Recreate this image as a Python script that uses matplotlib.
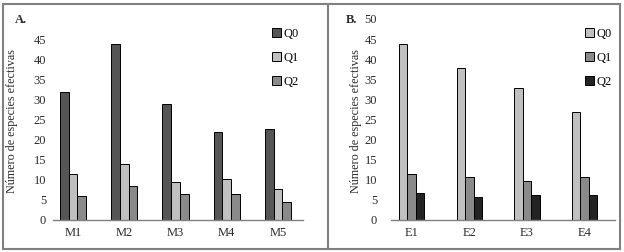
import matplotlib.pyplot as plt
import matplotlib.patches as mpatches
import numpy as np

plt.rcParams['font.family'] = ['Liberation Serif', 'DejaVu Serif']

# panel A
cat_a = ['M1', 'M2', 'M3', 'M4', 'M5']
q0_a = [31.8, 43.8, 28.8, 21.9, 22.7]
q1_a = [11.5, 14.0, 9.5, 10.1, 7.7]
q2_a = [5.9, 8.4, 6.5, 6.5, 4.5]
col_a = ['#555555', '#c0c0c0', '#8a8a8a']

# panel B
cat_b = ['E1', 'E2', 'E3', 'E4']
q0_b = [43.8, 37.7, 32.8, 26.8]
q1_b = [11.4, 10.7, 9.7, 10.7]
q2_b = [6.7, 5.7, 6.1, 6.1]
col_b = ['#c0c0c0', '#8a8a8a', '#232323']

series = ['Q0', 'Q1', 'Q2']

W, H = 624, 252
fig = plt.figure(figsize=(W / 100, H / 100), dpi=100)

def px_axes(x0, x1, ytop, ybot):
    return fig.add_axes([x0 / W, 1 - ybot / H, (x1 - x0) / W, (ybot - ytop) / H])

def panel(ax, cats, vals, cols, width, ymax, xlim, pad, legx, letter, letx):
    x = np.arange(len(cats))
    bars = []
    for k, v in enumerate(vals):
        b = ax.bar(x + (k - 1) * width, v, width, color=cols[k],
                   edgecolor='black', linewidth=0.7, label=series[k])
        bars.append(b)
    ax.set_xlim(*xlim)
    ax.set_ylim(0, ymax)
    ax.set_yticks(np.arange(0, ymax + 1, 5))
    ax.set_xticks(x)
    ax.set_xticklabels(cats)
    for s in ['top', 'right', 'left']:
        ax.spines[s].set_visible(False)
    ax.spines['bottom'].set_color('#808080')
    ax.spines['bottom'].set_linewidth(1.0)
    ax.tick_params(axis='both', length=0, labelsize=9, colors='#2a2a2a')
    ax.tick_params(axis='y', pad=pad)
    ax.tick_params(axis='x', pad=5)
    ax.set_ylabel('Número de especies efectivas', fontsize=8.7, color='#2a2a2a')
    ax.legend(handles=bars, loc='upper left', frameon=False, fontsize=9,
              handlelength=0.7, handleheight=0.7, handletextpad=0.25,
              labelspacing=0.95, borderpad=0, borderaxespad=0,
              bbox_to_anchor=(legx / W, 1 - 28 / H), bbox_transform=fig.transFigure)
    fig.text(letx / W, 1 - 20 / H, letter, fontsize=9, fontweight='bold',
             va='center', ha='left', color='#2a2a2a')

ax1 = px_axes(53, 303, 39, 220)
panel(ax1, cat_a, [q0_a, q1_a, q2_a], col_a, 0.17, 45, (-0.39, 4.49), 5, 272, 'A.', 15)
ax1.yaxis.set_label_coords(18 / W, 1 - 121 / H, transform=fig.transFigure)

ax2 = px_axes(391, 615, 19, 220)
panel(ax2, cat_b, [q0_b, q1_b, q2_b], col_b, 0.147, 50, (-0.36, 3.53), 10, 585, 'B.', 346)
ax2.yaxis.set_label_coords(362 / W, 1 - 121 / H, transform=fig.transFigure)

# outer frame and divider
fig.patches.append(mpatches.Rectangle((3 / W, 1 - 249 / H), 617 / W, 245 / H,
                                      transform=fig.transFigure, fill=False,
                                      edgecolor='#808080', linewidth=1.5))
fig.add_artist(plt.Line2D([328 / W, 328 / W], [1 - 249 / H, 1 - 4 / H],
                          transform=fig.transFigure, color='#808080', linewidth=1.5))

fig.savefig('out.png', dpi=100)
